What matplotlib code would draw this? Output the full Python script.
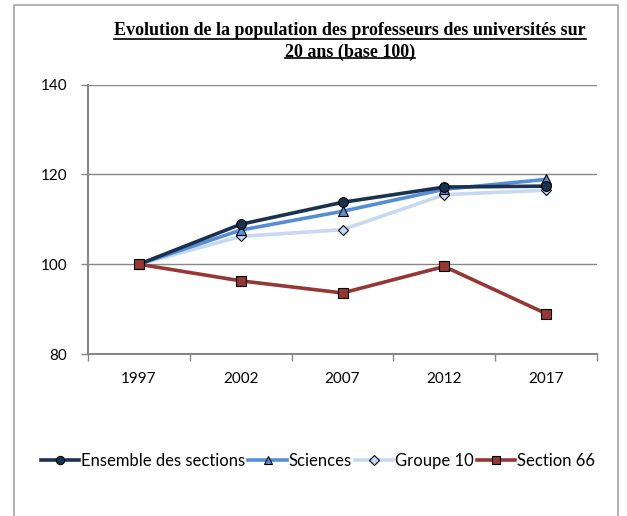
import matplotlib
matplotlib.use("Agg")
import matplotlib.pyplot as plt
import numpy as np
from matplotlib.patches import Rectangle

# données (base 100)
annees = ["1997", "2002", "2007", "2012", "2017"]
ensemble = [100, 108.9, 113.8, 117.2, 117.4]
sciences = [100, 107.6, 111.8, 116.7, 118.9]
groupe10 = [100, 106.2, 107.7, 115.5, 116.5]
section66 = [100, 96.3, 93.6, 99.5, 89.0]

titre = "Evolution de la population des professeurs des universités sur\n20 ans (base 100)"

W, H = 627, 516
fig = plt.figure(figsize=(W / 100, H / 100), dpi=100)
ax = fig.add_axes([88 / W, 1 - 354 / H, (597 - 88) / W, (354 - 84.7) / H])

x = np.arange(len(annees))
gris = "#878787"

ax.plot(x, ensemble, color="#1B3150", lw=2.6, marker="o", ms=7,
        mfc="#1B3150", mec="black", mew=0.8, label="Ensemble des sections", zorder=5)
ax.plot(x, sciences, color="#558ED5", lw=2.6, marker="^", ms=7,
        mfc="#558ED5", mec="black", mew=0.8, label="Sciences", zorder=4)
ax.plot(x, groupe10, color="#C6D9F1", lw=2.6, marker="D", ms=5.5,
        mfc="#C6D9F1", mec="black", mew=0.8, label="Groupe 10", zorder=3)
ax.plot(x, section66, color="#953735", lw=2.6, marker="s", ms=7,
        mfc="#953735", mec="black", mew=0.8, label="Section 66", zorder=6)

ax.set_xlim(-0.5, len(annees) - 0.5)
ax.set_ylim(80, 140)
ax.set_yticks([80, 100, 120, 140])
ax.grid(axis="y", color=gris, lw=1.0)
ax.set_axisbelow(True)

ax.set_xticks(x)
ax.set_xticklabels(annees)
ax.set_xticks(np.arange(-0.5, len(annees)), minor=True)
ax.tick_params(axis="x", which="major", length=0, pad=13, labelsize=11)
ax.tick_params(axis="x", which="minor", length=5, color=gris, width=1)
ax.tick_params(axis="y", length=5, color=gris, width=1, pad=10, labelsize=11)
for lab in ax.get_xticklabels() + ax.get_yticklabels():
    lab.set_family("Lato")

for s in ["top", "right"]:
    ax.spines[s].set_visible(False)
for s in ["left", "bottom"]:
    ax.spines[s].set_color(gris)
    ax.spines[s].set_linewidth(1.5)

leg = fig.legend(loc="center", bbox_to_anchor=(318 / W, 1 - 461 / H), ncol=4,
                 frameon=False, handlelength=2.3, handletextpad=0.1,
                 columnspacing=0.2, markerscale=0.85,
                 prop={"family": "Lato", "size": 12})

# titre souligné
tf = dict(family="Liberation Serif", weight="bold", fontsize=13)
t = fig.text(350 / W, 1 - 41.5 / H, titre, ha="center", va="center",
             linespacing=1.35, **tf)

# cadre extérieur
fig.patches.append(Rectangle((14 / W, -0.05), (618 - 14) / W, 1.05 - 5 / H,
                             transform=fig.transFigure, fill=False,
                             ec="#A6A6A6", lw=1.2))

fig.canvas.draw()
r = fig.canvas.get_renderer()
lignes = titre.split("\n")
bb = t.get_window_extent(r)
hl = bb.height / len(lignes)
for i, ligne in enumerate(lignes):
    tmp = fig.text(0, 0, ligne, **tf)
    w = tmp.get_window_extent(r).width
    tmp.remove()
    yb = bb.y1 - (i + 1) * hl + 3
    cx = (bb.x0 + bb.x1) / 2
    fig.add_artist(plt.Line2D([(cx - w / 2) / W, (cx + w / 2) / W], [yb / H, yb / H],
                              transform=fig.transFigure, color="black", lw=1.2))

fig.savefig("out.png", dpi=100)
